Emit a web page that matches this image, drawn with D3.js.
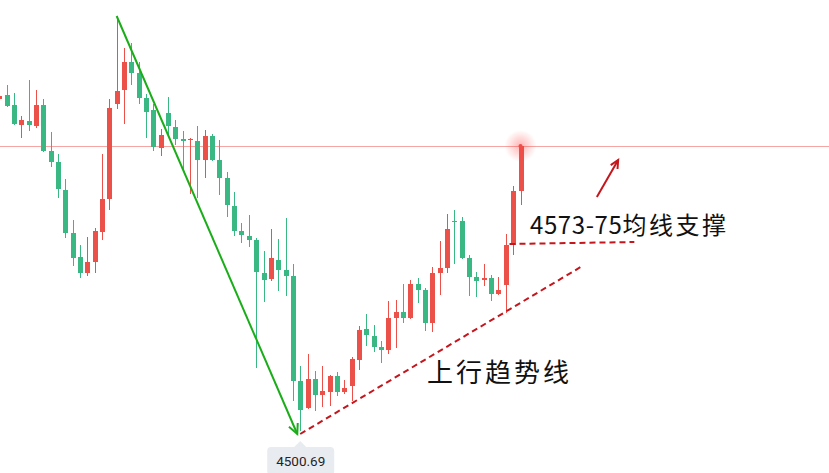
<!DOCTYPE html>
<html><head><meta charset="utf-8">
<script src="https://cdn.jsdelivr.net/npm/d3@7/dist/d3.min.js"></script>
<style>html,body{margin:0;padding:0;background:#fff;overflow:hidden}</style>
</head><body><svg id="c" width="829" height="473"></svg>
<script>
// candle index labels
const categories = d3.range(72).map(i => "K" + (i + 1));
const open  = [4633.5,4635.1,4631.1,4623.1,4624.7,4622.7,4631.1,4612.7,4608.3,4597.1,4579.9,4570.3,4563.9,4568.3,4580.3,4593.5,4631.5,4637.1,4648.3,4643.9,4633.9,4629.1,4613.9,4627.9,4622.3,4617.5,4617.1,4616.7,4609.1,4618.7,4609.1,4601.9,4590.7,4580.7,4578.7,4577.1,4563.9,4561.5,4569.1,4565.1,4562.7,4520.7,4509.9,4521.5,4515.1,4516.3,4522.7,4516.3,4518.7,4529.1,4541.5,4538.7,4534.3,4533.1,4545.9,4548.3,4545.9,4559.5,4557.1,4543.9,4563.9,4565.9,4584.7,4584.7,4569.9,4562.3,4561.1,4561.9,4555.5,4559.1,4575.1,4596.7];
const high  = [4635.5,4639.1,4635.9,4626.7,4641.1,4637.1,4633.5,4620.3,4611.5,4601.5,4585.1,4575.1,4578.3,4581.9,4611.5,4633.5,4666.7,4653.9,4655.9,4648.3,4635.5,4631.5,4621.5,4634.3,4625.1,4620.7,4617.9,4622.7,4621.1,4619.5,4617.1,4604.3,4596.3,4583.9,4587.1,4577.9,4572.7,4581.5,4577.5,4585.9,4567.5,4526.7,4531.5,4524.7,4526.7,4523.1,4524.3,4521.1,4530.3,4542.7,4547.5,4543.1,4536.7,4552.7,4553.1,4559.5,4561.1,4561.9,4557.9,4566.3,4576.7,4587.5,4589.1,4586.3,4571.1,4564.3,4567.5,4563.1,4562.3,4579.5,4598.7,4615.1];
const low   = [4632.7,4630.3,4623.1,4617.9,4620.7,4621.9,4612.3,4606.3,4593.9,4577.9,4566.7,4561.9,4562.7,4563.9,4577.1,4589.1,4629.5,4623.5,4639.1,4631.5,4617.9,4612.7,4610.7,4618.3,4615.1,4605.1,4595.5,4593.9,4601.9,4608.7,4595.1,4586.3,4578.7,4575.9,4574.3,4525.9,4552.3,4560.7,4556.7,4554.7,4512.7,4500.69,4509.5,4508.7,4510.3,4510.7,4514.7,4515.5,4512.7,4525.1,4534.7,4532.3,4527.9,4531.5,4533.9,4543.9,4545.5,4551.9,4540.7,4540.3,4555.1,4563.9,4567.5,4569.5,4554.7,4554.3,4558.7,4552.7,4555.1,4547.9,4571.1,4591.1];
const close = [4634.7,4630.7,4623.5,4625.1,4623.1,4631.1,4612.7,4608.3,4597.5,4579.9,4569.9,4563.9,4568.3,4580.7,4593.5,4629.9,4636.7,4648.3,4643.9,4633.9,4628.3,4614.3,4619.1,4622.7,4617.5,4616.7,4617.5,4609.1,4618.7,4609.1,4601.9,4591.1,4580.7,4579.1,4577.1,4564.3,4561.1,4569.9,4565.1,4562.7,4520.7,4509.1,4521.5,4515.1,4516.7,4522.7,4516.3,4517.9,4529.5,4541.1,4539.1,4534.3,4533.1,4545.9,4548.3,4545.9,4559.5,4557.1,4543.9,4563.9,4565.9,4581.5,4584.3,4569.9,4562.3,4560.7,4561.9,4555.5,4557.1,4575.1,4596.7,4614.7];
// annotations (index, price)
const lastPrice = 4614.7;
const lowLabel = 4500.69;
const downArrow = [[16, 4666.7], [40.6, 4499.5]];
const trendLine = [[41, 4499.5], [79.2, 4566.3]];
const supportLine = [[69.5, 4575.5], [86.5, 4576.3]];
const upArrow = [[81.4, 4594.3], [84.3, 4609.1]];
const supportNum = "4573-75", supportWords = "均线支撑";
const trendText = "上行趋势线";

const W = 829, H = 473;
const svg = d3.select("#c");
const x = d3.scaleLinear().domain([0, 71]).range([-0.84, 520.5]);
const y = d3.scaleLinear().domain([4483.9, 4673.1]).range([473, 0]);
const UP = "#eb5149", DOWN = "#3ab884";

const defs = svg.append("defs");
const rg = defs.append("radialGradient").attr("id", "glow");
rg.append("stop").attr("offset", "0%").attr("stop-color", "#f44").attr("stop-opacity", 0.4);
rg.append("stop").attr("offset", "100%").attr("stop-color", "#f44").attr("stop-opacity", 0);

// price line
svg.append("line").attr("x1", 0).attr("x2", W)
  .attr("y1", Math.round(y(lastPrice)) + 0.5).attr("y2", Math.round(y(lastPrice)) + 0.5)
  .attr("stroke", "#f6a5a2").attr("stroke-width", 1);

const data = categories.map((c, i) => ({i, o: open[i], h: high[i], l: low[i], c: close[i]}));
const g = svg.append("g");
const cg = g.selectAll("g").data(data).join("g")
  .attr("fill", d => d.c >= d.o ? UP : DOWN).attr("stroke", d => d.c >= d.o ? UP : DOWN);
cg.append("line").attr("shape-rendering", "crispEdges")
  .attr("x1", d => Math.round(x(d.i)) + 0.5).attr("x2", d => Math.round(x(d.i)) + 0.5)
  .attr("y1", d => y(d.h)).attr("y2", d => y(d.l)).attr("stroke-width", 1);
cg.append("rect").attr("stroke", "none").attr("shape-rendering", "crispEdges")
  .attr("x", d => Math.round(x(d.i)) - 2).attr("width", 5)
  .attr("y", d => y(Math.max(d.o, d.c)))
  .attr("height", d => Math.max(1, Math.abs(y(d.o) - y(d.c))));

// glow at last
svg.append("circle").attr("cx", x(71)).attr("cy", y(lastPrice)).attr("r", 16).attr("fill", "url(#glow)");
svg.append("circle").attr("cx", x(71)).attr("cy", y(lastPrice)).attr("r", 2).attr("fill", UP);

function arrowHead(p0, p1, color, len, ang, sw) {
  const a = Math.atan2(p1[1] - p0[1], p1[0] - p0[0]);
  const pts = [[p1[0] - len * Math.cos(a - ang), p1[1] - len * Math.sin(a - ang)], p1,
               [p1[0] - len * Math.cos(a + ang), p1[1] - len * Math.sin(a + ang)]];
  svg.append("path").attr("d", d3.line()(pts)).attr("fill", "none")
    .attr("stroke", color).attr("stroke-width", sw);
}
const P = d => [x(d[0]), y(d[1])];

// green down arrow
const ga = downArrow.map(P);
svg.append("path").attr("d", d3.line()(ga)).attr("stroke", "#1aad19").attr("stroke-width", 2).attr("fill", "none");
arrowHead(ga[0], ga[1], "#1aad19", 11, 0.45, 2);

// trend dashed
svg.append("path").attr("d", d3.line()(trendLine.map(P))).attr("stroke", "#c4161c")
  .attr("stroke-width", 2).attr("stroke-dasharray", "6,4").attr("fill", "none");
svg.append("path").attr("d", d3.line()(supportLine.map(P))).attr("stroke", "#c4161c")
  .attr("stroke-width", 2).attr("stroke-dasharray", "6,4").attr("fill", "none");

// red up arrow
const ra = upArrow.map(P);
svg.append("path").attr("d", d3.line()(ra)).attr("stroke", "#c4161c").attr("stroke-width", 2).attr("fill", "none");
arrowHead(ra[0], ra[1], "#c4161c", 9, 0.45, 2);

// texts
const st = svg.append("text").attr("x", 530).attr("y", 234)
  .attr("font-family", "'Noto Sans CJK SC', 'Noto Sans', sans-serif").attr("font-size", 24)
  .attr("fill", "#111");
st.append("tspan").attr("letter-spacing", 0.6).text(supportNum);
st.append("tspan").attr("letter-spacing", 2.5).text(supportWords);
svg.append("text").attr("x", 427).attr("y", 382).text(trendText)
  .attr("font-family", "'Noto Sans CJK SC', sans-serif").attr("font-size", 26)
  .attr("letter-spacing", 3).attr("fill", "#111");

// low label
const lx = x(41), ly = y(lowLabel);
const lg = svg.append("g");
lg.append("path").attr("d", `M${lx - 7},${ly + 17} L${lx},${ly + 10} L${lx + 7},${ly + 17} Z`).attr("fill", "#e8ebef");
lg.append("rect").attr("x", lx - 33).attr("y", ly + 16).attr("width", 67).attr("height", 28).attr("rx", 4).attr("fill", "#e8ebef");
lg.append("text").attr("x", lx + 0.5).attr("y", ly + 35).attr("text-anchor", "middle")
  .attr("font-family", "Roboto, 'Noto Sans', sans-serif").attr("font-size", 13.5).attr("fill", "#1f2329")
  .text(lowLabel.toFixed(2));
</script></body></html>
